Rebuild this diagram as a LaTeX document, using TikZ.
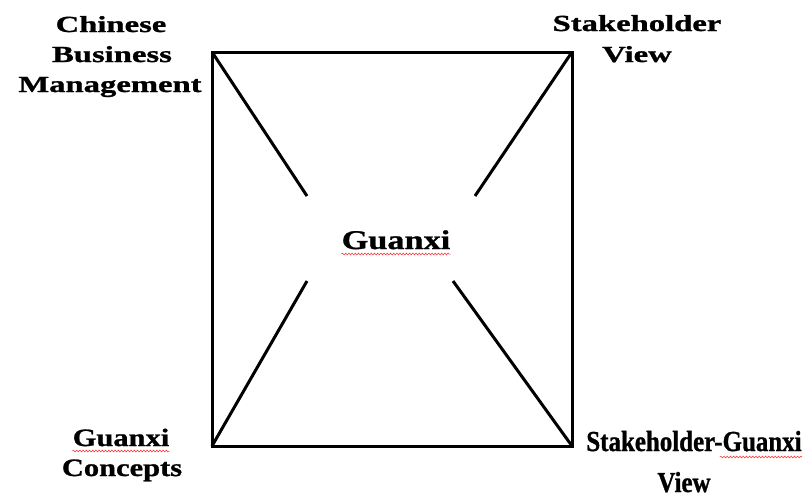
\documentclass[tikz,border=0pt]{standalone}
\usepackage{fontspec}
\setmainfont{Liberation Serif}
\newfontfamily\topfont[FakeStretch=1.42,FakeBold=1.2]{Liberation Serif}
\newfontfamily\midfont[FakeStretch=1.27,FakeBold=1]{Liberation Serif}
\newfontfamily\lowfont[FakeStretch=1.22,FakeBold=1]{Liberation Serif}
\newfontfamily\tallfont[FakeStretch=0.86,FakeBold=1]{Liberation Serif}
\usetikzlibrary{calc,decorations.pathmorphing}
\tikzset{
  frame/.style={draw, line width=3pt, line cap=round},
  spoke/.style={draw, line width=3pt},
  lbl/.style={
    anchor=base,
    inner sep=0pt,
    font=\topfont\fontsize{23}{30}\selectfont\bfseries,
  },
  lowlbl/.style={lbl, font=\lowfont\fontsize{25}{30}\selectfont\bfseries},
  tall/.style={lbl, font=\tallfont\fontsize{29}{30}\selectfont\bfseries},
  core/.style={lbl, font=\midfont\fontsize{27}{30}\selectfont\bfseries},
  wave/.style={
    draw=red!85!white, line width=0.5pt,
    decorate, decoration={snake, amplitude=0.9pt, segment length=3.2pt},
  },
}

\begin{document}
\begin{tikzpicture}[x=1pt, y=-1pt]
  \useasboundingbox (0,0) rectangle (811,498);

  % square
  \coordinate (tl) at (212,52);
  \coordinate (tr) at (572,52);
  \coordinate (br) at (572,446);
  \coordinate (bl) at (212,446);
  \draw[frame] (tl) -- (tr) -- (br) -- (bl) -- cycle;

  % inner ends of the spokes
  \coordinate (itl) at (307,196);
  \coordinate (itr) at (475,196);
  \coordinate (ibl) at (307,281);
  \coordinate (ibr) at (453,281);
  \draw[spoke] (tl) -- (itl);
  \draw[spoke] (tr) -- (itr);
  \draw[spoke] (bl) -- (ibl);
  \draw[spoke] (br) -- (ibr);

  % centre
  \node[core] (gx) at (396,249) {Guanxi};
  \draw[wave] ($(gx.base west)+(0,5)$) -- ($(gx.base east)+(0,5)$);

  % corner labels
  \node[lbl] (cbm1) at (111,32) {Chinese};
  \node[lbl] (cbm2) at (112,62) {Business};
  \node[lbl] (cbm3) at (110,92) {Management};

  \node[lbl] (sv1) at (637,31) {Stakeholder};
  \node[lbl] (sv2) at (637,62) {View};

  \node[lowlbl] (gc1) at (121,446) {Guanxi};
  \node[lowlbl] (gc2) at (122,476) {Concepts};
  \draw[wave] ($(gc1.base west)+(0,5)$) -- ($(gc1.base east)+(0,5)$);

  \node[tall] (sgv1) at (694,451) {Stakeholder-Guanxi};
  \node[tall] (sgv2) at (684,492) {View};
  \draw[wave] ($(sgv1.base east)+(-82,6)$) -- ($(sgv1.base east)+(0,6)$);
\end{tikzpicture}
\end{document}
